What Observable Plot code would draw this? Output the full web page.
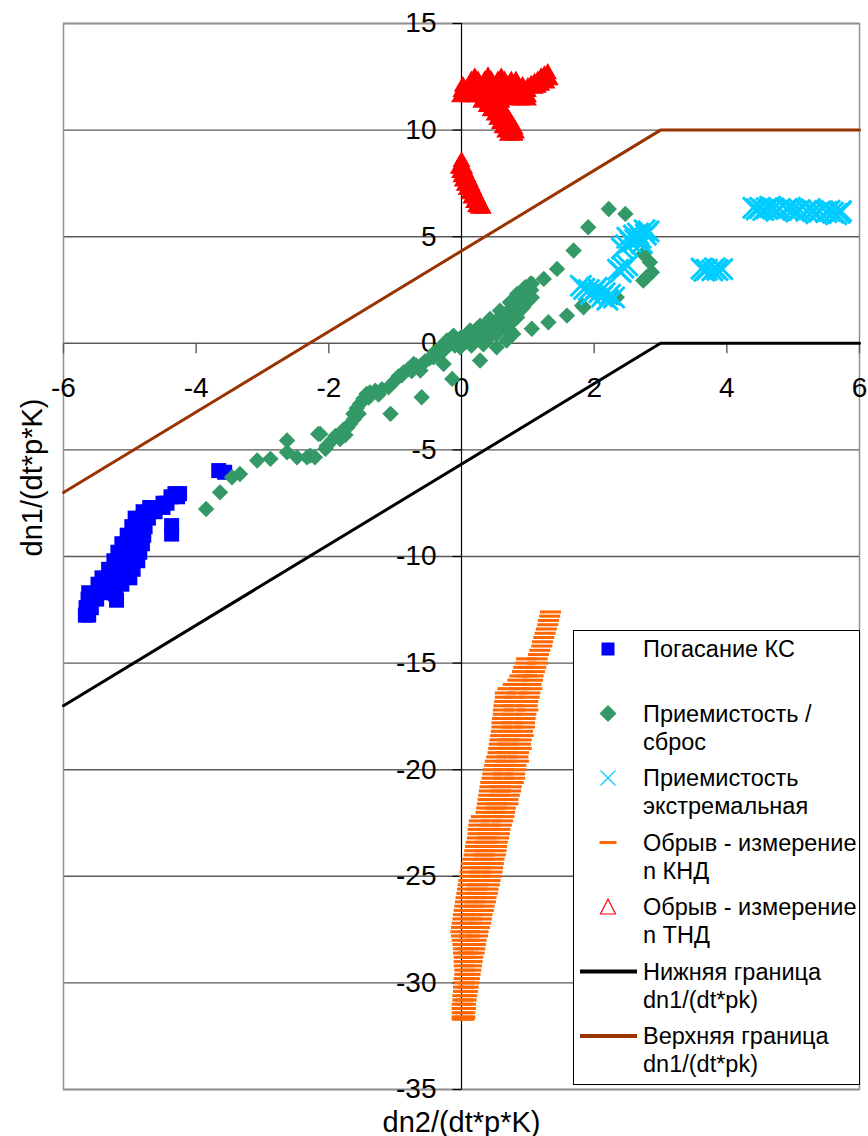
<!DOCTYPE html>
<html><head><meta charset="utf-8">
<script src="https://cdn.jsdelivr.net/npm/d3@7"></script>
<script src="https://cdn.jsdelivr.net/npm/@observablehq/plot@0.6"></script>
<style>
html,body{margin:0;padding:0;background:#fff;}
#wrap{position:relative;width:868px;height:1136px;font-family:"Liberation Sans",Arial,sans-serif;}
#wrap svg{display:block;}
#legend{position:absolute;left:573px;top:630px;}
</style></head>
<body><div id="wrap"></div>
<script>
// ---- data ----
const xTicks = [-6, -4, -2, 0, 2, 4, 6];
const yTicks = [15, 10, 5, 0, -5, -10, -15, -20, -25, -30, -35];

const blueSquares = [
 [-5.67,-12.75],[-5.62,-12.75],[-5.66,-12.4],[-5.58,-12.4],[-5.63,-12.0],[-5.50,-12.0],
 [-5.62,-11.7],[-5.42,-11.7],[-5.48,-11.3],[-5.30,-11.3],[-5.12,-11.3],[-5.42,-11.0],[-5.21,-11.0],[-5.00,-11.0],
 [-5.32,-10.6],[-5.13,-10.6],[-4.95,-10.6],[-5.24,-10.2],[-5.06,-10.2],[-4.88,-10.2],
 [-5.18,-9.8],[-5.02,-9.8],[-4.85,-9.8],[-5.12,-9.4],[-4.97,-9.4],[-4.81,-9.4],
 [-5.04,-9.0],[-4.92,-9.0],[-4.79,-9.0],[-4.97,-8.6],[-4.87,-8.6],[-4.77,-8.6],
 [-4.92,-8.2],[-4.82,-8.2],[-4.72,-8.2],[-4.80,-7.9],[-4.62,-7.9],[-4.70,-7.7],[-4.50,-7.7],
 [-4.50,-7.5],[-4.44,-7.5],[-4.38,-7.2],[-4.28,-7.2],[-4.32,-7.05],[-4.25,-7.05],
 [-5.21,-11.4],[-5.22,-11.75],[-5.20,-12.05],[-4.37,-8.55],[-4.37,-8.95],
 [-3.66,-5.97],[-3.57,-6.05]
];

const greenDiamonds = [
 [-3.85,-7.77],[-3.64,-6.99],[-3.46,-6.28],[-3.34,-6.13],[-3.08,-5.50],[-2.88,-5.42],[-2.63,-5.11],
 [-2.63,-4.56],[-2.48,-5.35],[-2.28,-5.27],[-2.16,-4.25],[-2.33,-5.35],[-2.21,-5.35],[-2.03,-4.80],
 [-2.13,-4.25],[-1.83,-4.49],[-1.68,-3.78],[-1.63,-3.31],[-1.53,-2.84],[-1.43,-2.37],[-1.30,-2.22],
 [-1.10,-2.06],[-1.07,-3.31],[-0.87,-1.36],[-0.72,-0.97],[-0.62,-1.28],[-0.60,-2.53],[-0.42,-0.66],
 [-0.27,-0.34],[-0.22,0.13],[-0.12,0.36],[-0.27,-0.97],[-0.14,-1.67],[-0.02,-0.19],[0.08,0.13],
 [0.18,0.20],[0.28,0.60],[0.28,-0.81],[0.38,0.91],[0.58,1.22],[0.53,-0.19],[0.68,0.13],[0.78,0.44],
 [0.78,1.69],[0.88,2.00],[0.99,2.47],[1.04,2.79],[1.31,0.99],[1.59,1.30],[1.84,1.69],
 [-1.95,-4.55],[-1.90,-4.35],[-1.78,-4.05],[-1.72,-3.95],[-1.58,-3.05],[-1.48,-2.60],[-1.38,-2.30],
 [-1.20,-2.15],[-1.00,-1.75],[-0.95,-1.55],[-0.80,-1.20],[-0.68,-1.05],[-0.55,-0.85],[-0.48,-0.70],
 [-0.35,-0.50],[-0.32,-0.20],[-0.18,-0.05],[-0.08,0.10],[0.00,0.30],[0.02,-0.05],[0.12,0.45],
 [0.22,0.40],[0.35,0.70],[0.45,1.00],[0.50,0.90],[0.62,1.30],[0.70,1.50],[0.85,1.80],[0.90,1.60],
 [0.95,2.20],[0.98,1.90],[1.05,2.50],[1.06,2.15],[0.65,0.75],[0.75,0.95],[0.55,0.55],[0.43,0.30],
 [0.15,-0.10],[0.33,-0.05],
 [0.13,0.60],[0.28,0.83],[0.43,1.14],[0.58,1.53],[0.73,1.92],[0.84,2.32],[0.96,2.63],[1.06,2.79],
 [1.04,2.16],[0.93,1.69],[0.84,1.22],[0.68,0.75],[0.53,0.44],[0.73,0.60],
 [1.24,3.02],[1.44,3.49],[1.69,4.35],[1.91,5.44],[2.22,6.30],[2.47,6.07],
 [1.06,0.68],[1.82,1.77],[2.34,2.16],
 [2.74,4.19],[2.84,3.80],[2.87,3.33],[2.74,2.94],[2.79,3.10],
 [-2.05,-4.95],[-1.75,-4.30],[-1.62,-3.55],[-1.55,-3.30],[-1.40,-2.55],[-1.25,-2.40],[-0.90,-1.50],
 [-0.75,-1.30],[-0.60,-1.00],[-0.40,-0.40],[-0.25,-0.15],[-0.10,-0.10],[0.05,0.10],[0.25,0.25],[0.40,0.55],
 [0.60,0.95],[0.80,1.45],[0.90,1.95],[1.00,2.35]
];

const cyanCrosses = [
 [4.40,6.36],[4.50,6.35],[4.60,6.33],[4.70,6.32],[4.80,6.30],[4.90,6.30],[5.00,6.27],[5.10,6.25],
 [5.20,6.22],[5.30,6.20],[5.40,6.18],[5.50,6.15],[5.60,6.13],[5.70,6.12],[4.55,6.25],[4.75,6.22],
 [5.05,6.18],[5.35,6.10],[5.65,6.05],[4.45,6.28],[4.65,6.40],[4.95,6.36],[5.25,6.30],[5.55,6.22],[5.72,6.20],
 [3.62,3.50],[3.70,3.45],[3.78,3.42],[3.86,3.44],[3.93,3.48],[3.66,3.40],[3.82,3.52],
 [2.42,4.45],[2.48,4.60],[2.55,4.75],[2.62,4.85],[2.70,4.95],[2.78,5.10],[2.82,5.25],[2.60,5.05],
 [2.50,4.95],[2.72,4.70],[2.66,5.15],[2.76,5.30],
 [2.36,3.45],[2.44,3.55],[2.50,3.65],[2.40,3.35],
 [1.85,2.55],[1.92,2.50],[2.00,2.45],[2.08,2.40],[2.16,2.35],[2.24,2.28],[2.30,2.15],[1.95,2.30],
 [2.12,2.20],[2.20,2.05],[1.80,2.70],[2.04,2.60]
];

const orangeDashes = [
 [1.34,-12.6],[1.33,-12.8],[1.31,-13.0],[1.30,-13.2],[1.28,-13.4],[1.26,-13.6],[1.24,-13.8],[1.22,-14.0],
 [1.21,-14.2],[1.18,-14.4],[1.16,-14.6],[1.14,-14.8],[0.98,-14.8],[1.15,-15.0],[0.96,-15.0],
 [1.12,-15.2],[0.94,-15.2],[1.02,-15.2],[1.10,-15.4],[0.92,-15.4],[1.08,-15.6],[0.88,-15.6],[0.98,-15.6],
 [1.07,-15.8],[0.85,-15.8],[1.05,-16.0],[0.78,-16.0],[0.92,-16.0],[1.06,-16.2],[0.70,-16.2],[0.88,-16.2],
 [1.03,-16.4],[0.66,-16.4],[0.84,-16.4],[1.02,-16.6],[0.66,-16.6],[0.80,-16.6],[1.00,-16.8],[0.65,-16.8],[0.82,-16.8],
 [0.99,-17.0],[0.64,-17.0],[0.78,-17.0],[1.00,-17.2],[0.63,-17.2],[0.80,-17.2],[0.97,-17.4],[0.63,-17.4],[0.76,-17.4],
 [0.96,-17.6],[0.62,-17.6],[0.79,-17.6],[0.95,-17.8],[0.61,-17.8],[0.74,-17.8],[0.95,-18.0],[0.61,-18.0],[0.77,-18.0],
 [0.92,-18.2],[0.60,-18.2],[0.73,-18.2],[0.93,-18.4],[0.59,-18.4],[0.76,-18.4],[0.90,-18.6],[0.58,-18.6],[0.72,-18.6],
 [0.89,-18.8],[0.57,-18.8],[0.70,-18.8],[0.90,-19.0],[0.56,-19.0],[0.72,-19.0],[0.86,-19.2],[0.55,-19.2],[0.68,-19.2],
 [0.85,-19.4],[0.53,-19.4],[0.70,-19.4],[0.86,-19.6],[0.51,-19.6],[0.66,-19.6],[0.82,-19.8],[0.50,-19.8],[0.67,-19.8],
 [0.82,-20.0],[0.48,-20.0],[0.64,-20.0],[0.80,-20.2],[0.47,-20.2],[0.62,-20.2],[0.80,-20.4],[0.46,-20.4],[0.63,-20.4],
 [0.78,-20.6],[0.44,-20.6],[0.60,-20.6],[0.75,-20.8],[0.43,-20.8],[0.58,-20.8],[0.74,-21.0],[0.42,-21.0],[0.59,-21.0],
 [0.72,-21.2],[0.41,-21.2],[0.56,-21.2],[0.70,-21.4],[0.40,-21.4],[0.55,-21.4],[0.70,-21.6],[0.39,-21.6],[0.54,-21.6],
 [0.66,-21.8],[0.38,-21.8],[0.52,-21.8],[0.65,-22.0],[0.37,-22.0],[0.50,-22.0],[0.64,-22.2],[0.30,-22.2],[0.47,-22.2],
 [0.62,-22.4],[0.27,-22.4],[0.45,-22.4],[0.60,-22.6],[0.26,-22.6],[0.42,-22.6],[0.58,-22.8],[0.25,-22.8],[0.42,-22.8],
 [0.57,-23.0],[0.25,-23.0],[0.40,-23.0],[0.56,-23.2],[0.24,-23.2],[0.38,-23.2],[0.54,-23.4],[0.22,-23.4],[0.38,-23.4],
 [0.53,-23.6],[0.21,-23.6],[0.36,-23.6],[0.52,-23.8],[0.20,-23.8],[0.35,-23.8],[0.51,-24.0],[0.19,-24.0],[0.34,-24.0],
 [0.49,-24.2],[0.17,-24.2],[0.32,-24.2],[0.48,-24.4],[0.15,-24.4],[0.31,-24.4],[0.47,-24.6],[0.14,-24.6],[0.30,-24.6],
 [0.46,-24.8],[0.13,-24.8],[0.28,-24.8],[0.45,-25.0],[0.12,-25.0],[0.27,-25.0],[0.43,-25.2],[0.11,-25.2],[0.26,-25.2],
 [0.42,-25.4],[0.10,-25.4],[0.25,-25.4],[0.40,-25.6],[0.09,-25.6],[0.24,-25.6],[0.39,-25.8],[0.08,-25.8],[0.22,-25.8],
 [0.37,-26.0],[0.07,-26.0],[0.21,-26.0],[0.36,-26.2],[0.06,-26.2],[0.20,-26.2],[0.34,-26.4],[0.05,-26.4],[0.19,-26.4],
 [0.33,-26.6],[0.04,-26.6],[0.18,-26.6],[0.31,-26.8],[0.03,-26.8],[0.16,-26.8],[0.30,-27.0],[0.02,-27.0],[0.16,-27.0],
 [0.29,-27.2],[0.01,-27.2],[0.14,-27.2],[0.27,-27.4],[0.00,-27.4],[0.13,-27.4],[0.25,-27.6],[-0.01,-27.6],[0.12,-27.6],
 [0.24,-27.8],[0.00,-27.8],[0.12,-27.8],[0.22,-28.0],[0.01,-28.0],[0.11,-28.0],[0.21,-28.2],[0.02,-28.2],[0.11,-28.2],
 [0.20,-28.4],[0.03,-28.4],[0.10,-28.4],[0.19,-28.6],[0.03,-28.6],[0.10,-28.6],[0.17,-28.8],[0.04,-28.8],
 [0.16,-29.0],[0.04,-29.0],[0.15,-29.2],[0.04,-29.2],[0.14,-29.4],[0.05,-29.4],[0.13,-29.6],[0.05,-29.6],
 [0.12,-29.8],[0.04,-29.8],[0.11,-30.0],[0.04,-30.0],[0.10,-30.2],[0.03,-30.2],[0.09,-30.4],[0.03,-30.4],
 [0.08,-30.6],[0.02,-30.6],[0.07,-30.8],[0.02,-30.8],[0.06,-31.0],[0.01,-31.0],[0.06,-31.2],[0.01,-31.2],
 [0.05,-31.4],[0.01,-31.4],[0.05,-31.6],[0.01,-31.6],[0.04,-31.7],[0.01,-31.7]
];

const redTriangles = [
 [0.15,12.30],[0.25,12.30],[0.35,12.30],[0.45,12.30],[0.55,12.30],[0.65,12.30],[0.75,12.30],[0.82,12.30],
 [0.20,12.45],[0.40,12.50],[0.60,12.45],
 [0.02,12.05],[0.12,12.05],[0.22,12.05],[0.32,12.05],[0.42,12.05],[0.52,12.05],[0.62,12.05],[0.72,12.05],[0.82,12.05],[0.92,12.05],
 [0.00,11.80],[0.10,11.80],[0.20,11.80],[0.30,11.80],[0.40,11.80],[0.50,11.80],[0.60,11.80],[0.70,11.80],[0.80,11.80],[0.90,11.80],[1.00,11.80],
 [-0.02,11.55],[0.10,11.55],[0.20,11.55],[0.30,11.55],[0.40,11.55],[0.50,11.55],[0.60,11.55],[0.70,11.55],[0.85,11.55],[1.00,11.55],
 [0.05,11.68],[0.25,11.68],[0.45,11.68],[0.65,11.68],[0.08,11.92],[0.28,11.92],[0.48,11.92],[0.68,11.92],[0.88,11.92],
 [0.30,11.30],[0.40,11.30],[0.50,11.30],[0.60,11.30],[0.75,11.40],[0.90,11.40],[1.00,11.40],
 [1.00,12.00],[1.05,12.10],[1.10,12.20],[1.15,12.30],[1.20,12.45],[1.25,12.55],[1.30,12.65],[1.33,12.35],
 [1.28,12.20],[1.20,12.10],[1.10,11.95],[1.15,12.00],
 [0.38,11.10],[0.48,11.10],[0.58,11.05],[0.44,10.90],[0.55,10.90],[0.64,10.85],[0.50,10.70],[0.60,10.70],[0.68,10.65],
 [0.54,10.50],[0.64,10.50],[0.72,10.45],[0.58,10.30],[0.68,10.30],[0.76,10.25],[0.62,10.10],[0.72,10.10],[0.80,10.05],
 [0.66,9.90],[0.76,9.90],[0.82,9.85],[0.70,9.75],[0.80,9.75],
 [0.00,8.52],[0.00,8.35],[-0.04,8.20],[0.04,8.20],[-0.02,8.00],[0.06,8.00],[0.00,7.80],[0.09,7.80],
 [0.02,7.60],[0.12,7.60],[0.05,7.40],[0.15,7.40],[0.08,7.20],[0.18,7.20],[0.12,7.00],[0.21,7.00],
 [0.15,6.80],[0.24,6.80],[0.19,6.60],[0.27,6.60],[0.22,6.40],[0.30,6.40],[0.26,6.33],[0.32,6.33]
];

const lowerBoundX = [-6, 3, 6];
const lowerBoundY = [-17, 0, 0];
const upperBoundX = [-6, 3, 6];
const upperBoundY = [-7, 10, 10];

const xTitle = "dn2/(dt*p*K)";
const yTitle = "dn1/(dt*p*K)";

const legendLabels = [
 ["Погасание КС"],
 ["Приемистость /", "сброс"],
 ["Приемистость", "экстремальная"],
 ["Обрыв - измерение", "n КНД"],
 ["Обрыв - измерение", "n ТНД"],
 ["Нижняя граница", "dn1/(dt*pk)"],
 ["Верхняя граница", "dn1/(dt*pk)"]
];

// ---- symbols ----
const tickDown = {draw(c){ c.moveTo(0,0); c.lineTo(0,10); }};
const tickLeft = {draw(c){ c.moveTo(0,0); c.lineTo(-9,0); }};
const squareSym = {draw(c){ c.rect(-7.5,-7.5,15,15); }};
const diamondSym = {draw(c){ const h=8.2; c.moveTo(0,-h); c.lineTo(h,0); c.lineTo(0,h); c.lineTo(-h,0); c.closePath(); }};
const crossSym = {draw(c){ const h=10.5; c.moveTo(-h,-h); c.lineTo(h,h); c.moveTo(-h,h); c.lineTo(h,-h); }};
const dashSym = {draw(c){ c.moveTo(-10.5,0); c.lineTo(10.5,0); }};
const triSym = {draw(c){ c.moveTo(0,-9.3); c.lineTo(8,4.7); c.lineTo(-8,4.7); c.closePath(); }};

const lower = lowerBoundX.map((x,i)=>({x, y: lowerBoundY[i]}));
const upper = upperBoundX.map((x,i)=>({x, y: upperBoundY[i]}));
const X = d => d[0], Y = d => d[1];

const chart = Plot.plot({
  width: 868, height: 1136,
  marginLeft: 63, marginRight: 9, marginTop: 23, marginBottom: 47,
  x: {domain: [-6, 6], axis: null},
  y: {domain: [-35, 15], axis: null},
  style: {fontFamily: '"Liberation Sans", Arial, sans-serif', background: "#fff", overflow: "visible"},
  marks: [
    Plot.ruleY(yTicks, {y: d => d, stroke: "#5a5a5a", strokeWidth: 1.4}),
    Plot.frame({stroke: "#909090", strokeWidth: 1.5}),
    Plot.dot(xTicks, {x: d => d, y: 0, symbol: tickDown, stroke: "#5a5a5a", fill: "none", strokeWidth: 1.4}),
    Plot.ruleX([0], {x: d => d, stroke: "#000", strokeWidth: 1.2}),
    Plot.dot(yTicks, {x: 0, y: d => d, symbol: tickLeft, stroke: "#000", fill: "none", strokeWidth: 1.2}),
    Plot.text(xTicks, {x: d => d, y: 0, text: d => String(d), dy: 45, fontSize: 28, fill: "#000"}),
    Plot.text(yTicks, {x: 0, y: d => d, text: d => String(d), dx: -25, textAnchor: "end", fontSize: 28, fill: "#000"}),
    Plot.text([xTitle], {frameAnchor: "bottom", lineAnchor: "middle", dy: 33, text: d => d, fontSize: 29, fill: "#000"}),
    Plot.text([yTitle], {frameAnchor: "left", lineAnchor: "middle", dx: -31, rotate: -90, text: d => d, fontSize: 29, fill: "#000"}),
    Plot.dot(blueSquares, {x: X, y: Y, symbol: squareSym, fill: "#0000ff", stroke: "none"}),
    Plot.dot(greenDiamonds, {x: X, y: Y, symbol: diamondSym, fill: "#339966", stroke: "none"}),
    Plot.dot(cyanCrosses, {x: X, y: Y, symbol: crossSym, stroke: "#00ccff", fill: "none", strokeWidth: 3}),
    Plot.dot(orangeDashes, {x: X, y: Y, symbol: dashSym, stroke: "#ff6600", fill: "none", strokeWidth: 3}),
    Plot.dot(redTriangles, {x: X, y: Y, symbol: triSym, stroke: "#ff0000", fill: "#ff0000", strokeWidth: 1.2}),
    Plot.line(lower, {x: "x", y: "y", stroke: "#000", strokeWidth: 3}),
    Plot.line(upper, {x: "x", y: "y", stroke: "#993300", strokeWidth: 3})
  ]
});
const wrap = document.getElementById("wrap");
wrap.appendChild(chart);

// ---- legend ----
const legendKinds = ["square", "diamond", "cross", "dash", "triangle", "lineBlack", "lineBrown"];
const lg = d3.select(wrap).append("svg").attr("id", "legend")
  .attr("width", 288).attr("height", 456);
lg.append("rect").attr("x", 0.5).attr("y", 0.5).attr("width", 286).attr("height", 454)
  .attr("fill", "#fff").attr("stroke", "#000").attr("stroke-width", 1);
legendLabels.forEach((lines, i) => {
  const cy = 19 + i * 64.5;
  const g = lg.append("g").attr("transform", `translate(35,${cy})`);
  const k = legendKinds[i];
  if (k === "square") g.append("rect").attr("x", -6.5).attr("y", -6.5).attr("width", 13).attr("height", 13).attr("fill", "#0000ff");
  if (k === "diamond") g.append("path").attr("d", "M0,-8.5L8.5,0L0,8.5L-8.5,0Z").attr("fill", "#339966");
  if (k === "cross") g.append("path").attr("d", "M-7.5,-7.5L7.5,7.5M-7.5,7.5L7.5,-7.5").attr("stroke", "#00ccff").attr("stroke-width", 1.2).attr("fill", "none");
  if (k === "dash") g.append("path").attr("d", "M-8.5,0L8.5,0").attr("stroke", "#ff6600").attr("stroke-width", 3);
  if (k === "triangle") g.append("path").attr("d", "M0,-8L7.5,7L-7.5,7Z").attr("stroke", "#ff0000").attr("stroke-width", 1.2).attr("fill", "none");
  if (k === "lineBlack") g.append("path").attr("d", "M-28,0L29,0").attr("stroke", "#000").attr("stroke-width", 4);
  if (k === "lineBrown") g.append("path").attr("d", "M-28,0L29,0").attr("stroke", "#993300").attr("stroke-width", 4);
  lines.forEach((t, j) => {
    lg.append("text").attr("x", 70).attr("y", cy + j * 28).attr("dy", "0.35em")
      .attr("font-family", '"Liberation Sans", Arial, sans-serif').attr("font-size", 23.5).attr("fill", "#000")
      .text(t);
  });
});
</script>
</body></html>
